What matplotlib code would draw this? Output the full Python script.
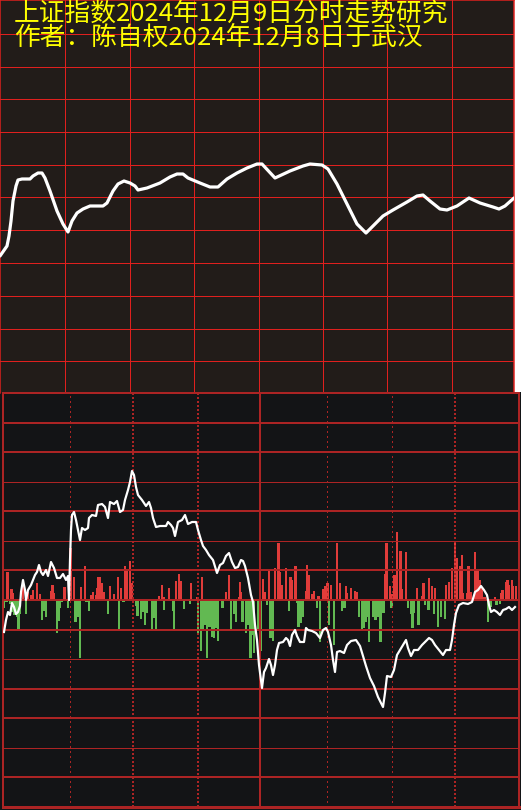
import matplotlib
matplotlib.use("Agg")
import matplotlib.pyplot as plt
from matplotlib.patches import Rectangle
import numpy as np

plt.rcParams['font.family'] = ['Noto Sans CJK SC', 'DejaVu Sans']

# ---------------- data ----------------
title_lines = ["上证指数2024年12月9日分时走势研究",
               "作者：陈自权2024年12月8日于武汉"]

# top panel: forecast intraday curve (time units across session, level units)
top_t = [0, 7, 9, 11, 13, 16, 18, 22, 30, 33, 38, 42, 45, 50, 57, 63, 68, 72, 77, 83,
         90, 103, 107, 113, 118, 124, 130, 135, 138, 147, 160, 170, 177, 183, 188, 200, 210, 218, 227, 237,
         247, 257, 262, 275, 290, 303, 310, 322, 328, 337, 347, 357, 366, 375, 383, 393, 407, 417, 423, 430,
         440, 447, 457, 469, 480, 493, 499, 505, 514]
top_v = [137, 147, 157, 172, 192, 207, 213, 214, 214, 217, 220, 220, 215, 202, 182, 169, 161, 172, 180, 184,
         187, 187, 190, 202, 209, 212, 210, 207, 203, 205, 210, 216, 219, 219, 215, 210, 206, 206, 214, 220,
         225, 229, 229, 215, 222, 227, 229, 228, 224, 209, 189, 169, 160, 169, 177, 183, 191, 197, 198, 192,
         184, 183, 187, 195, 190, 186, 184, 187, 195]

# bottom panel: white line
line_t = [4, 6, 8, 10, 12, 14, 16, 18, 20, 21, 23, 25, 26, 28, 31, 33, 35, 37, 39, 41,
          43, 46, 48, 51, 54, 57, 60, 63, 66, 68, 69, 70, 71, 72, 74, 76, 78, 80, 82, 85,
          88, 89, 92, 96, 98, 102, 105, 108, 110, 114, 117, 120, 123, 125, 128, 130, 132, 134, 136, 138,
          142, 146, 149, 151, 153, 156, 160, 166, 168, 171, 173, 175, 178, 182, 185, 188, 192, 196, 198, 201,
          203, 206, 209, 213, 216, 217, 220, 223, 226, 229, 232, 235, 238, 241, 243, 245, 248, 251, 253, 255,
          257, 259, 261, 262, 264, 266, 269, 271, 273, 275, 277, 279, 283, 286, 288, 290, 292, 295, 297, 300,
          304, 306, 308, 312, 316, 320, 323, 326, 328, 331, 333, 335, 337, 340, 344, 347, 351, 356, 360, 363,
          366, 370, 374, 378, 381, 383, 385, 387, 391, 394, 397, 400, 403, 406, 408, 411, 414, 418, 422, 426,
          429, 432, 435, 439, 443, 446, 450, 452, 454, 456, 459, 463, 468, 472, 475, 478, 481, 484, 487, 489,
          491, 494, 497, 500, 503, 506, 509, 512, 515]
line_v = [-32, -20, -12, -15, -3, -7, -14, -12, -6, 8, 20, 10, 0, 10, 15, 20, 25, 28, 35, 28,
          25, 30, 24, 38, 32, 22, 22, 26, 20, 24, 0, 40, 70, 85, 88, 80, 70, 60, 72, 70,
          72, 82, 85, 84, 95, 96, 93, 82, 98, 96, 99, 88, 90, 100, 110, 118, 129, 125, 113, 105,
          100, 94, 98, 92, 82, 73, 74, 74, 78, 75, 72, 64, 78, 80, 85, 76, 78, 78, 70, 60,
          54, 50, 45, 40, 30, 27, 35, 37, 44, 47, 38, 32, 33, 40, 39, 34, 22, 5, -2, -25,
          -40, -65, -80, -88, -72, -68, -59, -65, -75, -65, -50, -43, -42, -38, -40, -46, -35, -30, -36, -42,
          -42, -28, -30, -31, -33, -38, -30, -28, -32, -45, -60, -72, -52, -51, -53, -45, -41, -40, -46, -56,
          -66, -78, -86, -97, -103, -107, -93, -76, -77, -70, -55, -50, -45, -40, -48, -56, -50, -50, -45, -41,
          -38, -40, -45, -50, -55, -50, -50, -40, -25, -13, -5, -3, -4, -2, 8, 10, 14, 10, 5, -5,
          -12, -10, -12, -15, -10, -9, -7, -10, -7]

# bottom panel: red (positive) bars
red_t = [7.3, 11.5, 13, 23, 27.5, 31, 33, 37, 40, 51, 52.5, 54, 64.5, 70.5, 74, 81, 85, 91, 93, 96,
         97, 98.5, 100, 101.5, 104, 110, 114, 118, 121, 125, 127, 130, 132, 159, 162, 164, 169, 176, 179, 181,
         191, 197, 202, 226, 229, 239.5, 240, 241,
         263, 264.5, 269, 275, 278.5, 280, 281.5, 286, 290.5, 292, 295.5, 306, 307, 309, 312.5, 314, 318.5, 323,
         325, 327.5, 331, 337, 340, 346, 347, 351, 355, 357, 385, 386.5, 390, 391.5, 394.5, 396, 397, 400.5,
         402, 406, 417, 422, 423.5, 429, 432, 435, 446, 449, 452, 455, 457, 460, 462, 463, 467, 468.5,
         470.5, 475, 477.5, 479.5, 481.5, 484.5, 495, 501, 502.5, 506, 507.5, 509, 512, 513, 516]
red_v = [28, 11, 7, 18, 8, 5, 10, 17, 6, 9, 15, 7, 13, 52, 23, 13, 34, 5, 8, 5,
         12, 23, 23, 17, 8, 14, 6, 23, 12, 34, 30, 39, 17, 4, 15, 3, 12, 19, 26, 19,
         17, 3, 23, 8, 25, 3, 18, 8,
         21, 8, 29, 32, 57, 28, 15, 32, 23, 20, 34, 9, 35, 25, 6, 9, 4, 11,
         14, 17, 15, 57, 17, 14, 7, 12, 9, 8, 26, 57, 14, 6, 25, 12, 68, 49,
         11, 48, 12, 4, 17, 22, 14, 12, 15, 18, 32, 57, 42, 34, 45, 7, 7, 34,
         8, 48, 30, 20, 12, 3, 3, 7, 10, 18, 20, 15, 20, 14, 14]

# bottom panel: green (negative) bars
green_t = [4, 6.5, 10, 12, 14.5, 17, 18.5, 20, 26, 42, 43.5, 46, 57, 59, 60, 62, 68, 75.5, 78.5, 80,
           86.5, 89, 108, 119, 123.5, 136, 137.5, 141, 143, 145, 147, 152, 154, 156, 164, 173, 174, 184, 190, 198,
           201, 203, 205, 207, 209.5, 212, 214, 216, 218, 222.5, 231, 234, 236, 242.5, 246, 248, 250.5, 252, 254, 258,
           261, 267, 270.5, 273, 289, 297, 298.5, 301, 302.5, 317, 320, 329, 334, 342, 344.5, 359, 362, 363.5, 366, 368,
           369, 373, 375.5, 378.5, 380.5, 383.5, 391.5, 408, 411.5, 412.5, 414, 418.5, 425, 428.5, 434, 438, 441, 445,
           488, 490.5, 496.5, 500]
green_v = [-8, -2, -4, -12, -15, -17, -31, -14, -14, -20, -11, -17, -33, -21, -8, -2, -8, -22, -17, -58,
           -2, -11, -14, -31, -2, -6, -16, -19, -12, -25, -13, -31, -18, -31, -10, -11, -31, -9, -4, -33,
           -51, -31, -25, -58, -27, -37, -38, -28, -41, -8, -31, -14, -22, -22, -33, -25, -58, -35, -53, -31,
           -51, -5, -38, -41, -11, -3, -27, -23, -17, -8, -42, -25, -45, -11, -8, -17, -31, -28, -22, -17,
           -42, -17, -20, -17, -42, -13, -8, -8, -14, -28, -13, -25, -5, -10, -14, -27, -17, -19,
           -22, -7, -5, -4]

# ---------------- figure ----------------
W, H = 521, 810
fig = plt.figure(figsize=(W / 100, H / 100), dpi=100)
fig.patch.set_facecolor('white')

TOP_BG = '#221c19'
BOT_BG = '#131416'
TOP_RED = '#e0201e'
BOT_RED = '#ac2424'

def px(lw_px):
    return lw_px * 0.72

# dark background behind the bottom panel (full width)
fig.patches.append(Rectangle((0, 0), 1, (H - 392.0) / H, transform=fig.transFigure,
                             facecolor=BOT_BG, edgecolor='none', zorder=-5))

# ---- top panel ----
top_w = 514.0
top_h = 393.0
axt = fig.add_axes([0, (H - top_h) / H, top_w / W, top_h / H])
axt.set_facecolor(TOP_BG)
axt.set_xlim(0, top_w)
axt.set_ylim(0, top_h)
for k in range(1, 8):
    axt.axvline(round(k * 64.4) + 0.5, color=TOP_RED, lw=px(1), antialiased=False, zorder=1)
for k in range(1, 12):
    axt.axhline(top_h - round(k * 32.75) - 0.5, color=TOP_RED, lw=px(1), antialiased=False, zorder=1)
axt.plot(top_t, top_v, color='white', lw=px(3.2), solid_joinstyle='round',
         solid_capstyle='round', zorder=3)
axt.set_xticks([])
axt.set_yticks([])
for s in axt.spines.values():
    s.set_color(TOP_RED)
    s.set_linewidth(px(1.5))
axt.spines['bottom'].set_visible(False)

# ---- bottom panel ----
bx0, bx1 = 3.0, 519.0
by0, by1 = 393.0, 807.0
axb = fig.add_axes([bx0 / W, (H - by1) / H, (bx1 - bx0) / W, (by1 - by0) / H])
axb.set_facecolor(BOT_BG)
axb.set_xlim(bx0, bx1)
half = (by1 - by0) / 2
axb.set_ylim(-half, half)
step = (by1 - by0) / 14

# horizontal grid (top to bottom widths)
hw = [2, 2, 1, 2, 1, 2, 2, 2, 1, 2, 2, 1, 2]
for i, k in enumerate(range(6, -7, -1)):
    axb.axhline(k * step, color=BOT_RED, lw=px(hw[i]), antialiased=False, zorder=3)

# vertical grid columns and styles
vcols = [69, 133, 198, 260, 326, 391, 455]
vkind = ['thin', 'thick', 'thick', 'solid', 'thin', 'thin', 'thick']
for xv, kind in zip(vcols, vkind):
    if kind == 'solid':
        axb.axvline(xv, color=BOT_RED, lw=px(2), antialiased=False, zorder=3)
    elif kind == 'thin':
        axb.axvline(xv + 0.5, color=BOT_RED, lw=px(1), linestyle=(0, (1.4, 3.3)),
                    antialiased=False, zorder=3)
    else:
        axb.axvline(xv, color=BOT_RED, lw=px(2), linestyle=(0, (1.0, 1.35)),
                    antialiased=False, zorder=3)

axb.bar(red_t, red_v, width=2.5, color='#e03c3a', linewidth=0, antialiased=False, zorder=2)
axb.bar(green_t, green_v, width=2.5, color='#62b952', linewidth=0, antialiased=False, zorder=2)
axb.plot(line_t, line_v, color='white', lw=px(2.2), zorder=4)

axb.set_xticks([])
axb.set_yticks([])
for name, s in axb.spines.items():
    s.set_color(BOT_RED)
    s.set_linewidth(px(2))
axb.spines['bottom'].set_linewidth(px(3))

# ---- titles ----
fig.text(14 / W, 1 - 13.5 / H, title_lines[0], color='#ffff00', fontsize=18.5,
         ha='left', va='center', zorder=10)
fig.text(14 / W, 1 - 37.5 / H, title_lines[1], color='#ffff00', fontsize=18.5,
         ha='left', va='center', zorder=10)

fig.savefig('out.png', dpi=100, facecolor=fig.get_facecolor())
